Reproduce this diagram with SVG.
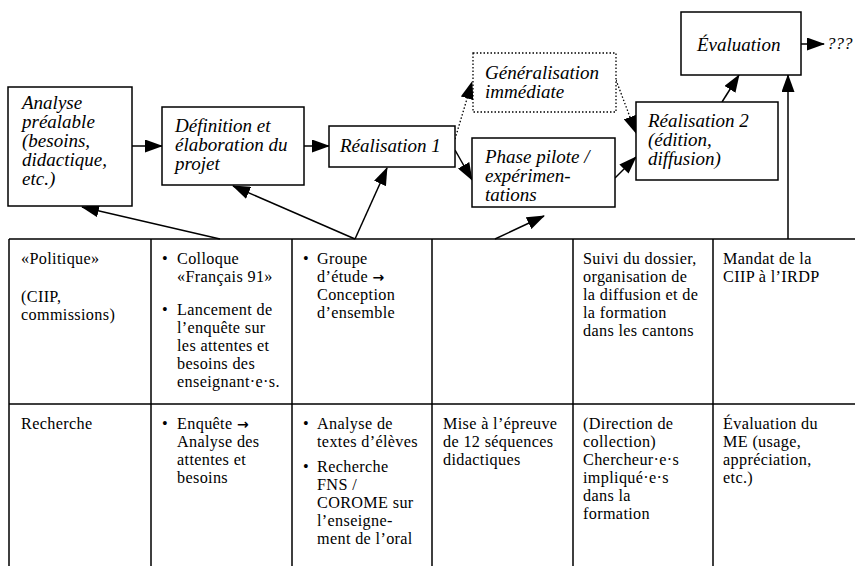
<svg xmlns="http://www.w3.org/2000/svg" width="855" height="566" viewBox="0 0 855 566">
<style>
.box{fill:#fff;stroke:#000;stroke-width:1.5}
.dot{fill:#fff;stroke:#000;stroke-width:1.3;stroke-dasharray:1.5 2}
.it{font-family:"Liberation Serif",serif;font-style:italic;font-size:19px;fill:#000}
.tx{font-family:"Liberation Serif",serif;font-size:16.2px;letter-spacing:0.35px;fill:#000}
.ar{font-family:"DejaVu Sans",sans-serif;font-size:14px;font-weight:bold}
.ln{stroke:#000;stroke-width:1.5;fill:none}
.conn{stroke:#000;stroke-width:1.5;fill:none;marker-end:url(#ah)}
.connd{stroke:#000;stroke-width:1.3;fill:none;stroke-dasharray:1.5 2;marker-end:url(#ah)}
</style>
<defs>
<marker id="ah" markerUnits="userSpaceOnUse" markerWidth="18" markerHeight="13" refX="17" refY="6.5" orient="auto">
<path d="M0,0 L18,6.5 L0,13 z" fill="#000"/>
</marker>
</defs>
<rect width="855" height="566" fill="#fff"/>

<g id="connectors">
<line class="conn" x1="132" y1="146" x2="162" y2="146"/>
<line class="conn" x1="304" y1="146" x2="329" y2="146"/>
<line class="conn" x1="455" y1="150" x2="472" y2="180"/>
<line class="connd" x1="455" y1="139" x2="472" y2="82"/>
<line class="connd" x1="616" y1="80" x2="636" y2="133"/>
<line class="conn" x1="615" y1="178" x2="636" y2="157"/>
<line class="conn" x1="722" y1="102" x2="739" y2="75"/>
<line class="conn" x1="801" y1="44" x2="824" y2="44"/>
<line class="conn" x1="788" y1="239" x2="788" y2="75"/>
<line class="conn" x1="220" y1="239" x2="82" y2="207"/>
<line class="conn" x1="355" y1="239" x2="233" y2="186"/>
<line class="conn" x1="355" y1="239" x2="387" y2="168"/>
<line class="conn" x1="495" y1="239" x2="544" y2="216"/>
</g>

<g id="analyse">
<rect class="box" x="8" y="87" width="124" height="119"/>
<text class="it" y="109"><tspan x="22">Analyse</tspan><tspan x="22" dy="19">préalable</tspan><tspan x="22" dy="19">(besoins,</tspan><tspan x="22" dy="19">didactique,</tspan><tspan x="22" dy="19">etc.)</tspan></text>
</g>
<g id="definition">
<rect class="box" x="162" y="107" width="142" height="78"/>
<text class="it" y="132"><tspan x="175">Définition et</tspan><tspan x="175" dy="19">élaboration du</tspan><tspan x="175" dy="19">projet</tspan></text>
</g>
<g id="realisation1">
<rect class="box" x="329" y="126" width="126" height="41"/>
<text class="it" x="340" y="152">Réalisation 1</text>
</g>
<g id="generalisation">
<rect class="dot" x="473" y="53" width="143" height="59"/>
<text class="it" y="79"><tspan x="485">Généralisation</tspan><tspan x="485" dy="19">immédiate</tspan></text>
</g>
<g id="phasepilote">
<rect class="box" x="472" y="138" width="143" height="69"/>
<text class="it" y="163"><tspan x="485">Phase pilote /</tspan><tspan x="485" dy="19">expérimen-</tspan><tspan x="485" dy="19">tations</tspan></text>
</g>
<g id="realisation2">
<rect class="box" x="636" y="102" width="142" height="78"/>
<text class="it" y="127"><tspan x="648">Réalisation 2</tspan><tspan x="648" dy="19">(édition,</tspan><tspan x="648" dy="19">diffusion)</tspan></text>
</g>
<g id="evaluation">
<rect class="box" x="681" y="12" width="120" height="63"/>
<text class="it" x="697" y="51">Évaluation</text>
</g>
<g id="unknown">
<text class="it" x="827" y="49" style="font-size:17px">???</text>
</g>

<g id="table">
<path class="ln" d="M9,239 H855 M9,404 H855 M9,239 V566 M151,239 V566 M292,239 V566 M432,239 V566 M573,239 V566 M713,239 V566"/>
</g>

<g id="row-politique">
<text class="tx" y="264"><tspan x="21">«Politique»</tspan><tspan x="21" dy="38">(CIIP,</tspan><tspan x="21" dy="18">commissions)</tspan></text>

<text class="tx" y="264"><tspan x="162">•</tspan><tspan x="177">Colloque</tspan><tspan x="177" dy="18">«Français 91»</tspan><tspan x="162" dy="33">•</tspan><tspan x="177">Lancement de</tspan><tspan x="177" dy="18">l’enquête sur</tspan><tspan x="177" dy="18">les attentes et</tspan><tspan x="177" dy="18">besoins des</tspan><tspan x="177" dy="18">enseignant·e·s.</tspan></text>

<text class="tx" y="264"><tspan x="303">•</tspan><tspan x="317">Groupe</tspan><tspan x="317" dy="18">d’étude <tspan class="ar">→</tspan></tspan><tspan x="317" dy="18">Conception</tspan><tspan x="317" dy="18">d’ensemble</tspan></text>

<text class="tx" y="264"><tspan x="583">Suivi du dossier,</tspan><tspan x="583" dy="18">organisation de</tspan><tspan x="583" dy="18">la diffusion et de</tspan><tspan x="583" dy="18">la formation</tspan><tspan x="583" dy="18">dans les cantons</tspan></text>

<text class="tx" y="264"><tspan x="723">Mandat de la</tspan><tspan x="723" dy="18">CIIP à l’IRDP</tspan></text>
</g>

<g id="row-recherche">
<text class="tx" x="21" y="429">Recherche</text>

<text class="tx" y="429"><tspan x="162">•</tspan><tspan x="177">Enquête <tspan class="ar">→</tspan></tspan><tspan x="177" dy="18">Analyse des</tspan><tspan x="177" dy="18">attentes et</tspan><tspan x="177" dy="18">besoins</tspan></text>

<text class="tx" y="429"><tspan x="303">•</tspan><tspan x="317">Analyse de</tspan><tspan x="317" dy="18">textes d’élèves</tspan><tspan x="303" dy="25">•</tspan><tspan x="317">Recherche</tspan><tspan x="317" dy="18">FNS /</tspan><tspan x="317" dy="18">COROME sur</tspan><tspan x="317" dy="18">l’enseigne-</tspan><tspan x="317" dy="18">ment de l’oral</tspan></text>

<text class="tx" y="429"><tspan x="443">Mise à l’épreuve</tspan><tspan x="443" dy="18">de 12 séquences</tspan><tspan x="443" dy="18">didactiques</tspan></text>

<text class="tx" y="429"><tspan x="583">(Direction de</tspan><tspan x="583" dy="18">collection)</tspan><tspan x="583" dy="18">Chercheur·e·s</tspan><tspan x="583" dy="18">impliqué·e·s</tspan><tspan x="583" dy="18">dans la</tspan><tspan x="583" dy="18">formation</tspan></text>

<text class="tx" y="429"><tspan x="723">Évaluation du</tspan><tspan x="723" dy="18">ME (usage,</tspan><tspan x="723" dy="18">appréciation,</tspan><tspan x="723" dy="18">etc.)</tspan></text>
</g>
</svg>
